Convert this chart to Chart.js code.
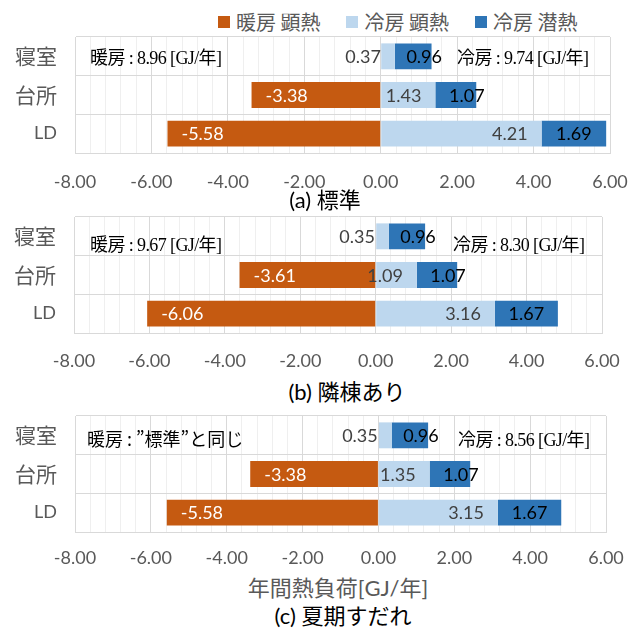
<!DOCTYPE html>
<html lang="ja">
<head>
<meta charset="utf-8">
<title>年間熱負荷</title>
<script src="https://cdn.jsdelivr.net/npm/chart.js@4"></script>
<style>
  body { margin: 0; background: #fff; }
  #page { position: relative; width: 638px; height: 628px; overflow: hidden; }
  canvas { position: absolute; left: 0; }
  .legend { position: absolute; top: 7px; left: 218px; display: flex; align-items: center;
            font: 20px "Noto Sans CJK JP", sans-serif; color: #595959; white-space: nowrap; }
  .legend span.box { display: inline-block; width: 12px; height: 12px; margin-right: 6px; }
  .legend .item { display: flex; align-items: center; margin-right: 26px; }
  .note { position: absolute; transform: translateY(-50%); white-space: nowrap; color: #000; }
  .serif { font: 18px "Liberation Serif", "Noto Sans CJK JP", serif; letter-spacing: -0.6px; }
  .sans { font: 18px "Noto Sans CJK JP", sans-serif; }
  .caption { position: absolute; transform: translate(-50%, -50%); white-space: nowrap; line-height: 1;
             font-family: "Lato", "Noto Sans CJK JP", sans-serif; font-size: 22px; color: #000; }
  .axis-title { color: #595959; font-size: 22px; }
</style>
</head>
<body>
<div id="page">
  <div class="legend" id="legend"></div>
  <canvas id="chartA" width="638" height="163" style="top:30px"></canvas>
  <canvas id="chartB" width="638" height="168" style="top:205px"></canvas>
  <canvas id="chartC" width="638" height="167" style="top:405px"></canvas>
</div>
<script>
// rooms and load categories
const rooms = ['寝室', '台所', 'LD'];
const seriesNames = ['暖房 顕熱', '冷房 顕熱', '冷房 潜熱'];
const seriesColors = ['#C55A11', '#BDD7EE', '#2E75B6'];
const xMin = -8;
const xMax = 6;

// (a) 標準
const heatA = [0, -3.38, -5.58];
const coolSensA = [0.37, 1.43, 4.21];
const coolLatA = [0.96, 1.07, 1.69];
// (b) 隣棟あり
const heatB = [0, -3.61, -6.06];
const coolSensB = [0.35, 1.09, 3.16];
const coolLatB = [0.96, 1.07, 1.67];
// (c) 夏期すだれ
const heatC = [0, -3.38, -5.58];
const coolSensC = [0.35, 1.35, 3.15];
const coolLatC = [0.96, 1.07, 1.67];

const captions = ['(a) 標準', '(b) 隣棟あり', '(c) 夏期すだれ'];
const heatNotes = ['暖房 : 8.96 [GJ/年]', '暖房 : 9.67 [GJ/年]', '暖房 : ”標準”と同じ'];
const coolNotes = ['冷房 : 9.74 [GJ/年]', '冷房 : 8.30 [GJ/年]', '冷房 : 8.56 [GJ/年]'];
const axisTitle = '年間熱負荷[GJ/年]';

// legend
const legend = document.getElementById('legend');
seriesNames.forEach((name, i) => {
  const item = document.createElement('div');
  item.className = 'item';
  item.innerHTML = '<span class="box" style="background:' + seriesColors[i] + '"></span>' + name;
  legend.appendChild(item);
});

const isMajor = v => Math.round(v * 10) % 20 === 0;

// value labels on the bars
const barLabels = {
  id: 'barLabels',
  afterDatasetsDraw(chart) {
    const ctx = chart.ctx;
    ctx.save();
    ctx.font = '18px Lato, sans-serif';
    ctx.textBaseline = 'middle';
    chart.data.datasets.forEach((ds, di) => {
      chart.getDatasetMeta(di).data.forEach((bar, i) => {
        const v = ds.data[i];
        if (!v) return;
        const text = v.toFixed(2);
        const w = Math.abs(bar.x - bar.base);
        if (di === 0) {
          ctx.fillStyle = '#fff';
          ctx.textAlign = 'left';
          ctx.fillText(text, bar.x + 14, bar.y + 1);
        } else if (di === 1) {
          ctx.fillStyle = '#404040';
          ctx.textAlign = 'right';
          ctx.fillText(text, bar.x - 14, bar.y + 1);
        } else {
          ctx.fillStyle = '#000';
          ctx.textAlign = 'center';
          ctx.fillText(text, (bar.x + bar.base) / 2 + (w < 50 ? 11 : 0), bar.y + 1);
        }
      });
    });
    ctx.restore();
  }
};

function makeChart(id, heat, coolSens, coolLat, box) {
  const canvasTop = parseInt(document.getElementById(id).style.top);
  return new Chart(document.getElementById(id), {
    type: 'bar',
    data: {
      labels: rooms,
      datasets: [heat, coolSens, coolLat].map((d, i) => ({
        label: seriesNames[i],
        data: d,
        backgroundColor: seriesColors[i],
        borderWidth: 0,
        barPercentage: 0.67,
        categoryPercentage: 1
      }))
    },
    options: {
      indexAxis: 'y',
      responsive: false,
      animation: false,
      layout: { padding: { top: box.top - canvasTop, right: 638 - box.right, left: 0, bottom: 0 } },
      plugins: { legend: { display: false }, tooltip: { enabled: false } },
      scales: {
        x: {
          stacked: true,
          min: xMin,
          max: xMax,
          afterFit: s => { s.height = 40; s.paddingLeft = 0; s.paddingRight = 0; },
          border: { color: '#D9D9D9' },
          grid: {
            drawTicks: false,
            color: c => isMajor(c.tick.value) ? '#D9D9D9' : '#EFEFEF'
          },
          ticks: {
            stepSize: 0.4,
            autoSkip: false,
            maxRotation: 0,
            padding: box.tickPad,
            color: '#595959',
            font: { family: 'Lato', size: 18 },
            callback: v => isMajor(v) ? v.toFixed(2) : ''
          }
        },
        y: {
          stacked: true,
          afterFit: s => { s.width = box.left; s.paddingTop = 0; s.paddingBottom = 0; },
          border: { color: '#D9D9D9' },
          grid: { drawTicks: false, color: '#D9D9D9' },
          ticks: {
            padding: 18,
            color: '#595959',
            font: c => c.index === 2
              ? { family: 'Lato', size: 18 }
              : { family: 'Noto Sans CJK JP', size: 21 }
          }
        }
      }
    },
    plugins: [barLabels]
  });
}

makeChart('chartA', heatA, coolSensA, coolLatA, { top: 37, left: 75, right: 610, tickPad: 18 });
makeChart('chartB', heatB, coolSensB, coolLatB, { top: 217, left: 74, right: 602, tickPad: 17 });
makeChart('chartC', heatC, coolSensC, coolLatC, { top: 416, left: 75, right: 606, tickPad: 15 });

// notes inside the plots and captions under them
const page = document.getElementById('page');
function addText(cls, text, left, top) {
  const el = document.createElement('div');
  el.className = cls;
  el.textContent = text;
  el.style.left = left + 'px';
  el.style.top = top + 'px';
  page.appendChild(el);
}
addText('note serif', heatNotes[0], 90, 56);
addText('note serif', coolNotes[0], 457, 56);
addText('note serif', heatNotes[1], 90, 243);
addText('note serif', coolNotes[1], 453, 243);
addText('note sans', heatNotes[2], 87, 438);
addText('note serif', coolNotes[2], 458, 438);

addText('caption', captions[0], 325, 200);
addText('caption', captions[1], 347, 392);
addText('caption axis-title', axisTitle, 338, 588);
addText('caption', captions[2], 343, 616);
</script>
</body>
</html>
